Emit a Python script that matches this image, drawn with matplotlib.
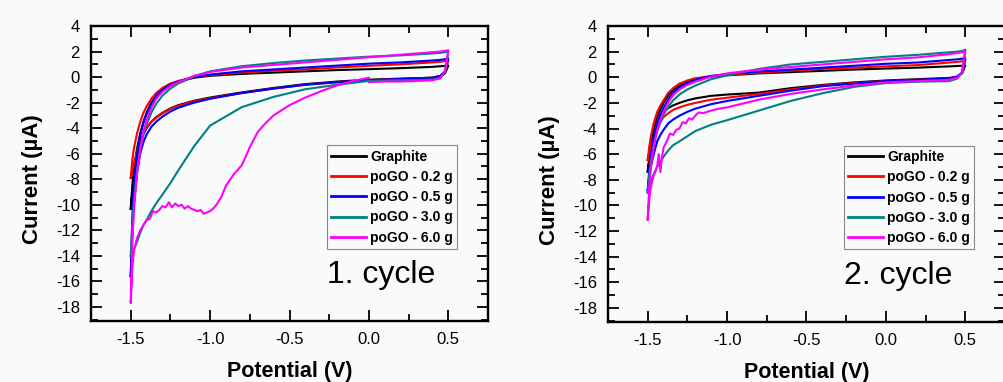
import matplotlib
matplotlib.use('Agg')
import matplotlib.pyplot as plt
from matplotlib.ticker import MultipleLocator
import numpy as np

plt.rcParams['font.family'] = ['Liberation Sans', 'DejaVu Sans']

# potential grid (V) shared by most branches, ascending
E_GRID = [-1.5, -1.49, -1.48, -1.46, -1.44, -1.42, -1.4, -1.37, -1.34, -1.3, -1.25, -1.2,
          -1.1, -1.0, -0.8, -0.6, -0.4, -0.2, 0.0, 0.2, 0.4, 0.45, 0.48, 0.5]

labels = ['Graphite', 'poGO - 0.2 g', 'poGO - 0.5 g', 'poGO - 3.0 g', 'poGO - 6.0 g']
colors = ['black', '#ff0000', '#0000ff', '#008080', '#ff00ff']

# ---- cycle 1, current in uA on E_GRID ----
c1_graphite_up = [-10.3, -8.5, -7.2, -5.6, -4.4, -3.5, -2.8, -2.0, -1.5, -1.0, -0.6, -0.35,
                  -0.05, 0.1, 0.25, 0.35, 0.45, 0.55, 0.62, 0.7, 0.8, 0.85, 0.88, 0.9]
c1_graphite_lo = [-10.3, -9.2, -8.0, -6.3, -5.2, -4.5, -4.0, -3.5, -3.15, -2.8, -2.45, -2.2,
                  -1.85, -1.6, -1.2, -0.85, -0.55, -0.35, -0.2, -0.12, -0.05, 0.05, 0.3, 0.9]
c1_02_up = [-7.9, -6.5, -5.6, -4.4, -3.5, -2.8, -2.3, -1.7, -1.25, -0.85, -0.5, -0.3,
            0.0, 0.15, 0.35, 0.5, 0.6, 0.75, 0.88, 1.0, 1.15, 1.2, 1.25, 1.3]
c1_02_lo = [-7.9, -7.3, -6.8, -5.8, -5.0, -4.4, -3.95, -3.5, -3.2, -2.85, -2.5, -2.25,
            -1.9, -1.65, -1.25, -0.9, -0.6, -0.4, -0.25, -0.15, -0.05, 0.1, 0.4, 1.3]
c1_05_up = [-15.6, -11.0, -8.5, -6.0, -4.6, -3.6, -2.9, -2.1, -1.5, -1.0, -0.6, -0.35,
            0.0, 0.2, 0.45, 0.6, 0.75, 0.9, 1.05, 1.15, 1.3, 1.35, 1.4, 1.45]
c1_05_lo = [-15.6, -12.5, -10.0, -7.5, -6.0, -5.1, -4.5, -3.9, -3.5, -3.1, -2.7, -2.4,
            -2.0, -1.7, -1.25, -0.9, -0.6, -0.4, -0.25, -0.15, -0.05, 0.1, 0.45, 1.45]
c1_30_up = [-14.0, -11.5, -9.8, -7.3, -5.6, -4.5, -3.7, -2.8, -2.1, -1.45, -0.9, -0.5,
            0.05, 0.45, 0.85, 1.1, 1.3, 1.45, 1.6, 1.7, 1.85, 1.9, 1.95, 2.0]
c1_30_lo = [-14.0, -13.8, -13.5, -12.9, -12.2, -11.6, -11.2, -10.5, -9.9, -9.2, -8.3, -7.3,
            -5.4, -3.8, -2.35, -1.55, -0.95, -0.6, -0.3, -0.25, -0.2, -0.05, 0.4, 2.0]
c1_60_up = [-17.7, -13.0, -10.5, -7.5, -5.7, -4.3, -3.4, -2.4, -1.7, -1.15, -0.7, -0.4,
            0.1, 0.4, 0.75, 0.95, 1.15, 1.35, 1.55, 1.75, 1.95, 2.0, 2.05, 2.1]
# 6.0 g, cycle 1: scan starts at 0.0 V going negative (own grid, descending)
c1_60_lo_E = [0.0, -0.1, -0.2, -0.3, -0.4, -0.5, -0.6, -0.65, -0.7, -0.75, -0.8, -0.85, -0.9,
              -0.93, -0.96, -0.98, -1.0, -1.02, -1.04, -1.06, -1.08, -1.1, -1.12, -1.14,
              -1.16, -1.18, -1.2, -1.22, -1.24, -1.26, -1.28, -1.3, -1.32, -1.34, -1.36,
              -1.38, -1.4, -1.42, -1.44, -1.46, -1.48, -1.49, -1.5]
c1_60_lo = [-0.05, -0.3, -0.65, -1.1, -1.6, -2.2, -3.0, -3.6, -4.3, -5.5, -6.9, -7.6, -8.5,
            -9.4, -10.0, -10.3, -10.5, -10.6, -10.7, -10.4, -10.5, -10.4, -10.3, -10.1,
            -10.3, -10.0, -10.1, -9.9, -10.2, -9.8, -10.2, -10.1, -10.4, -10.6, -10.5,
            -11.1, -11.2, -11.6, -12.0, -12.6, -13.6, -15.0, -17.7]
c1_60_end_E = [0.5, 0.48, 0.45, 0.4, 0.3, 0.2, 0.1, 0.0]
c1_60_end = [2.1, 0.5, -0.1, -0.25, -0.3, -0.35, -0.35, -0.4]

# ---- cycle 2 ----
c2_graphite_up = [-7.35, -6.2, -5.3, -4.0, -3.1, -2.5, -2.0, -1.4, -1.0, -0.65, -0.35, -0.15,
                  0.05, 0.15, 0.3, 0.4, 0.5, 0.6, 0.68, 0.75, 0.85, 0.88, 0.9, 0.92]
c2_graphite_lo = [-7.35, -6.6, -5.9, -4.7, -3.9, -3.2, -2.7, -2.4, -2.2, -2.0, -1.8, -1.65,
                  -1.45, -1.35, -1.2, -0.85, -0.6, -0.4, -0.25, -0.15, -0.05, 0.05, 0.3, 0.92]
c2_02_up = [-6.45, -5.4, -4.6, -3.5, -2.7, -2.2, -1.8, -1.2, -0.85, -0.5, -0.25, -0.08,
            0.1, 0.2, 0.35, 0.5, 0.65, 0.75, 0.85, 0.95, 1.15, 1.2, 1.25, 1.3]
c2_02_lo = [-6.45, -6.0, -5.5, -4.7, -4.0, -3.5, -3.1, -2.8, -2.55, -2.35, -2.15, -2.0,
            -1.75, -1.6, -1.3, -0.95, -0.65, -0.45, -0.3, -0.2, -0.1, 0.05, 0.35, 1.3]
c2_05_up = [-8.8, -7.2, -6.0, -4.6, -3.6, -2.9, -2.4, -1.7, -1.2, -0.8, -0.45, -0.2,
            0.1, 0.25, 0.45, 0.6, 0.75, 0.9, 1.05, 1.15, 1.35, 1.4, 1.45, 1.5]
c2_05_lo = [-8.8, -7.8, -7.0, -5.9, -5.0, -4.5, -4.1, -3.6, -3.3, -3.0, -2.7, -2.45,
            -2.1, -1.85, -1.45, -1.05, -0.7, -0.5, -0.3, -0.2, -0.1, 0.05, 0.4, 1.5]
c2_30_up = [-9.0, -7.6, -6.6, -5.2, -4.2, -3.5, -2.9, -2.3, -1.8, -1.35, -0.95, -0.65,
            -0.15, 0.15, 0.65, 1.0, 1.2, 1.4, 1.6, 1.75, 1.95, 2.0, 2.05, 2.15]
c2_30_lo = [-9.0, -8.5, -8.1, -7.5, -7.0, -6.6, -6.2, -5.7, -5.3, -5.0, -4.6, -4.2,
            -3.7, -3.35, -2.6, -1.85, -1.25, -0.75, -0.45, -0.35, -0.3, -0.1, 0.4, 2.15]
c2_60_up = [-11.1, -8.5, -7.0, -5.3, -4.1, -3.3, -2.7, -1.95, -1.4, -0.95, -0.6, -0.35,
            0.05, 0.3, 0.6, 0.8, 1.0, 1.2, 1.4, 1.55, 1.8, 1.9, 1.95, 2.05]
c2_60_lo_E = [0.5, 0.48, 0.45, 0.4, 0.2, 0.0, -0.2, -0.4, -0.6, -0.8, -0.9, -1.0, -1.05,
              -1.1, -1.15, -1.18, -1.2, -1.22, -1.24, -1.26, -1.28, -1.3, -1.32, -1.34,
              -1.36, -1.38, -1.4, -1.41, -1.42, -1.43, -1.44, -1.45, -1.46, -1.47, -1.48,
              -1.49, -1.5]
c2_60_lo = [2.05, 0.4, -0.05, -0.2, -0.3, -0.4, -0.65, -0.95, -1.3, -1.75, -2.05, -2.35,
            -2.45, -2.6, -2.8, -2.75, -3.0, -3.3, -3.2, -3.6, -3.5, -4.0, -4.1, -4.5,
            -4.4, -5.0, -5.5, -6.2, -7.4, -6.0, -6.9, -7.3, -7.6, -8.0, -8.6, -9.5, -11.1]


def loop(up, lo):
    # upper branch -1.5 -> 0.5, then lower branch 0.5 -> -1.5
    e = list(E_GRID) + list(E_GRID[::-1])
    i = list(up) + list(lo[::-1])
    return e, i


cycle1 = [loop(c1_graphite_up, c1_graphite_lo), loop(c1_02_up, c1_02_lo),
          loop(c1_05_up, c1_05_lo), loop(c1_30_up, c1_30_lo),
          (c1_60_lo_E + E_GRID + c1_60_end_E, c1_60_lo + c1_60_up + c1_60_end)]
cycle2 = [loop(c2_graphite_up, c2_graphite_lo), loop(c2_02_up, c2_02_lo),
          loop(c2_05_up, c2_05_lo), loop(c2_30_up, c2_30_lo),
          (E_GRID + c2_60_lo_E, c2_60_up + c2_60_lo)]

bg = '#f9fafa'
fig = plt.figure(figsize=(10.04, 3.82), dpi=100, facecolor=bg)
W, H = 1004.0, 382.0
ax1 = fig.add_axes([91 / W, 1 - 321 / H, 397 / W, 295 / H])
ax2 = fig.add_axes([608 / W, 1 - 322 / H, 397 / W, 296 / H])

for ax, data, name in [(ax1, cycle1, '1. cycle'), (ax2, cycle2, '2. cycle')]:
    ax.set_facecolor(bg)
    for (e, i), c, lab in zip(data, colors, labels):
        ax.plot(e, i, color=c, lw=1.5, label=lab)
    ax.set_xlim(-1.75, 0.75)
    ax.set_ylim(-19.1, 4)
    ax.xaxis.set_minor_locator(MultipleLocator(0.25))
    ax.yaxis.set_minor_locator(MultipleLocator(1))
    ax.set_xticks(np.arange(-1.5, 0.51, 0.5))
    ax.set_xticklabels(['-1.5', '-1.0', '-0.5', '0.0', '0.5'])
    ax.set_yticks(np.arange(-18, 4.1, 2))
    ax.set_yticklabels([str(int(v)) for v in np.arange(-18, 4.1, 2)])
    ax.tick_params(which='both', direction='in', top=True, right=True, width=1.3,
                   labelsize=12, pad=8)
    ax.tick_params(which='major', length=8)
    ax.tick_params(which='minor', length=5)
    for s in ax.spines.values():
        s.set_linewidth(1.7)
    ax.set_xlabel('Potential (V)', fontsize=15.5, fontweight='bold')
    ax.set_ylabel('Current (\u00b5A)', fontsize=16, fontweight='bold')
    ax.xaxis.set_label_coords(0.5, -0.135)
    ax.yaxis.set_label_coords(-0.121, 0.48)
    ax.text(0.595, 0.13, name, transform=ax.transAxes, fontsize=23)
    leg = ax.legend(loc='upper left', bbox_to_anchor=(0.595, 0.595),
                    prop={'weight': 'bold', 'size': 10}, handlelength=2.5,
                    handletextpad=0.3, labelspacing=0.45, borderpad=0.3,
                    borderaxespad=0, fancybox=False, framealpha=1)
    leg.get_frame().set_edgecolor('#888888')
    leg.get_frame().set_linewidth(0.8)
    leg.get_frame().set_facecolor(bg)
    for line in leg.get_lines():
        line.set_linewidth(2)

fig.savefig('out.png', dpi=100, facecolor=bg)
